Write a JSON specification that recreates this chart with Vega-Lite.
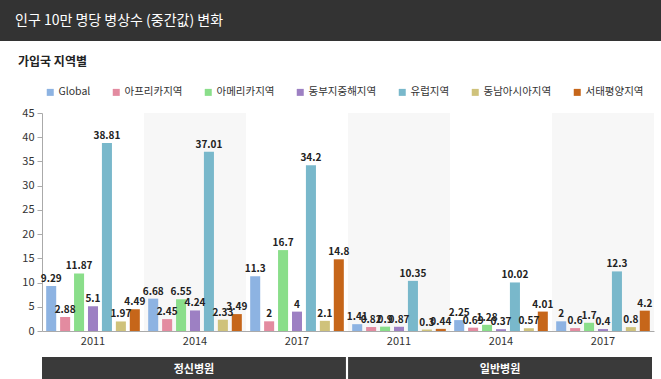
{
  "$schema": "https://vega.github.io/schema/vega-lite/v6.json",
  "padding": 0,
  "background": "white",
  "spacing": 15,
  "resolve": {"legend": {"color": "independent"}},
  "config": {
    "view": {"stroke": null},
    "font": "Noto Sans CJK KR",
    "axis": {"labelFont": "Noto Sans CJK KR", "labelColor": "#333", "labelFontSize": 11},
    "legend": {"labelFont": "Noto Sans CJK KR"},
    "title": {"font": "Noto Sans CJK KR"}
  },
  "vconcat": [
    {
      "width": 661,
      "height": 41,
      "data": {"values": [{"t": "인구 10만 명당 병상수 (중간값) 변화"}]},
      "layer": [
        {
          "mark": {"type": "rect", "color": "#333333"},
          "encoding": {}
        },
        {
          "mark": {"type": "text", "color": "white", "align": "left", "baseline": "middle", "fontSize": 14},
          "encoding": {
            "x": {"field": "t", "type": "nominal", "scale": {"type": "point", "range": [15, 661], "align": 0, "padding": 0}, "axis": null},
            "text": {"field": "t"}
          }
        }
      ]
    },
    {
      "spacing": 11,
      "resolve": {"legend": {"color": "independent"}},
      "vconcat": [
        {
          "width": 654,
          "height": 218,
          "title": {"text": "가입국 지역별", "anchor": "start", "frame": "group", "dx": 18, "fontSize": 12, "fontWeight": "bold", "color": "#222", "offset": 18},
          "data": {"values": [
            {"g": "정신병원 2011", "s": "Global", "v": 9.29},
            {"g": "정신병원 2011", "s": "아프리카지역", "v": 2.88},
            {"g": "정신병원 2011", "s": "아메리카지역", "v": 11.87},
            {"g": "정신병원 2011", "s": "동부지중해지역", "v": 5.1},
            {"g": "정신병원 2011", "s": "유럽지역", "v": 38.81},
            {"g": "정신병원 2011", "s": "동남아시아지역", "v": 1.97},
            {"g": "정신병원 2011", "s": "서태평양지역", "v": 4.49},
            {"g": "정신병원 2014", "s": "Global", "v": 6.68},
            {"g": "정신병원 2014", "s": "아프리카지역", "v": 2.45},
            {"g": "정신병원 2014", "s": "아메리카지역", "v": 6.55},
            {"g": "정신병원 2014", "s": "동부지중해지역", "v": 4.24},
            {"g": "정신병원 2014", "s": "유럽지역", "v": 37.01},
            {"g": "정신병원 2014", "s": "동남아시아지역", "v": 2.33},
            {"g": "정신병원 2014", "s": "서태평양지역", "v": 3.49},
            {"g": "정신병원 2017", "s": "Global", "v": 11.3},
            {"g": "정신병원 2017", "s": "아프리카지역", "v": 2},
            {"g": "정신병원 2017", "s": "아메리카지역", "v": 16.7},
            {"g": "정신병원 2017", "s": "동부지중해지역", "v": 4},
            {"g": "정신병원 2017", "s": "유럽지역", "v": 34.2},
            {"g": "정신병원 2017", "s": "동남아시아지역", "v": 2.1},
            {"g": "정신병원 2017", "s": "서태평양지역", "v": 14.8},
            {"g": "일반병원 2011", "s": "Global", "v": 1.41},
            {"g": "일반병원 2011", "s": "아프리카지역", "v": 0.82},
            {"g": "일반병원 2011", "s": "아메리카지역", "v": 0.9},
            {"g": "일반병원 2011", "s": "동부지중해지역", "v": 0.87},
            {"g": "일반병원 2011", "s": "유럽지역", "v": 10.35},
            {"g": "일반병원 2011", "s": "동남아시아지역", "v": 0.3},
            {"g": "일반병원 2011", "s": "서태평양지역", "v": 0.44},
            {"g": "일반병원 2014", "s": "Global", "v": 2.25},
            {"g": "일반병원 2014", "s": "아프리카지역", "v": 0.69},
            {"g": "일반병원 2014", "s": "아메리카지역", "v": 1.28},
            {"g": "일반병원 2014", "s": "동부지중해지역", "v": 0.37},
            {"g": "일반병원 2014", "s": "유럽지역", "v": 10.02},
            {"g": "일반병원 2014", "s": "동남아시아지역", "v": 0.57},
            {"g": "일반병원 2014", "s": "서태평양지역", "v": 4.01},
            {"g": "일반병원 2017", "s": "Global", "v": 2},
            {"g": "일반병원 2017", "s": "아프리카지역", "v": 0.6},
            {"g": "일반병원 2017", "s": "아메리카지역", "v": 1.7},
            {"g": "일반병원 2017", "s": "동부지중해지역", "v": 0.4},
            {"g": "일반병원 2017", "s": "유럽지역", "v": 12.3},
            {"g": "일반병원 2017", "s": "동남아시아지역", "v": 0.8},
            {"g": "일반병원 2017", "s": "서태평양지역", "v": 4.2}
          ]},
          "layer": [
            {
              "data": {"values": [{"g": "정신병원 2014"}, {"g": "일반병원 2011"}, {"g": "일반병원 2017"}]},
              "mark": {"type": "rect", "color": "#f7f7f7"},
              "encoding": {
                "x": {"field": "g", "type": "nominal", "sort": ["정신병원 2011", "정신병원 2014", "정신병원 2017", "일반병원 2011", "일반병원 2014", "일반병원 2017"],
                  "axis": {"labelExpr": "slice(datum.value, -4)", "labelAngle": 0, "ticks": false, "domainColor": "#aaa", "labelPadding": 4, "title": null}}
              }
            },
            {
              "mark": {"type": "bar"},
              "encoding": {
                "x": {"field": "g", "type": "nominal", "title": null,
                  "sort": ["정신병원 2011", "정신병원 2014", "정신병원 2017", "일반병원 2011", "일반병원 2014", "일반병원 2017"],
                  "scale": {"paddingInner": 0, "paddingOuter": 0, "range": [42, 654]},
                  "axis": {"labelExpr": "slice(datum.value, -4)", "labelAngle": 0, "ticks": false, "domainColor": "#aaa", "labelPadding": 4, "title": null}},
                "xOffset": {"field": "s", "type": "nominal", "sort": ["Global", "아프리카지역", "아메리카지역", "동부지중해지역", "유럽지역", "동남아시아지역", "서태평양지역"],
                  "scale": {"paddingInner": 0.28, "paddingOuter": 0.3}},
                "y": {"field": "v", "type": "quantitative", "title": null,
                  "scale": {"domain": [0, 45], "nice": false},
                  "axis": {"values": [0, 5, 10, 15, 20, 25, 30, 35, 40, 45], "labelOverlap": false, "offset": -42, "grid": false, "domainColor": "#aaa", "tickColor": "#aaa", "tickSize": 5, "labelPadding": 3, "title": null}},
                "color": {"field": "s", "type": "nominal", "title": null,
                  "sort": ["Global", "아프리카지역", "아메리카지역", "동부지중해지역", "유럽지역", "동남아시아지역", "서태평양지역"],
                  "scale": {"domain": ["Global", "아프리카지역", "아메리카지역", "동부지중해지역", "유럽지역", "동남아시아지역", "서태평양지역"],
                    "range": ["#8db3e2", "#e38ba0", "#8ade8a", "#9d80c3", "#79b8cb", "#cfc27b", "#c6661a"]},
                  "legend": {"orient": "none", "legendX": 45, "legendY": -26, "direction": "horizontal", "symbolType": "square", "symbolSize": 49, "symbolStrokeWidth": 0, "labelFontSize": 10.5, "labelOffset": 3, "labelColor": "#333", "columnPadding": 20}}
              }
            },
            {
              "mark": {"type": "text", "baseline": "bottom", "dy": -2, "fontSize": 10, "fontWeight": "bold", "color": "#222"},
              "encoding": {
                "x": {"field": "g", "type": "nominal", "sort": ["정신병원 2011", "정신병원 2014", "정신병원 2017", "일반병원 2011", "일반병원 2014", "일반병원 2017"],
                  "axis": {"labelExpr": "slice(datum.value, -4)", "labelAngle": 0, "ticks": false, "domainColor": "#aaa", "labelPadding": 4, "title": null}},
                "xOffset": {"field": "s", "type": "nominal", "sort": ["Global", "아프리카지역", "아메리카지역", "동부지중해지역", "유럽지역", "동남아시아지역", "서태평양지역"]},
                "y": {"field": "v", "type": "quantitative",
                  "axis": {"values": [0, 5, 10, 15, 20, 25, 30, 35, 40, 45], "labelOverlap": false, "offset": -42, "grid": false, "domainColor": "#aaa", "tickColor": "#aaa", "tickSize": 5, "labelPadding": 3, "title": null}},
                "text": {"field": "v", "type": "quantitative"}
              }
            }
          ]
        },
        {
          "width": 654,
          "height": 26,
          "data": {"values": [{"t": "정신병원"}, {"t": "일반병원"}]},
          "layer": [
            {
              "mark": {"type": "rect", "color": "#3a3a3a"},
              "encoding": {
                "x": {"field": "t", "type": "nominal", "sort": ["정신병원", "일반병원"], "scale": {"paddingInner": 0.007, "paddingOuter": 0, "range": [42, 652]}, "axis": null}
              }
            },
            {
              "mark": {"type": "text", "color": "white", "fontSize": 11, "fontWeight": "bold", "baseline": "middle"},
              "encoding": {
                "x": {"field": "t", "type": "nominal", "sort": ["정신병원", "일반병원"], "axis": null},
                "text": {"field": "t"}
              }
            }
          ]
        }
      ]
    }
  ]
}
